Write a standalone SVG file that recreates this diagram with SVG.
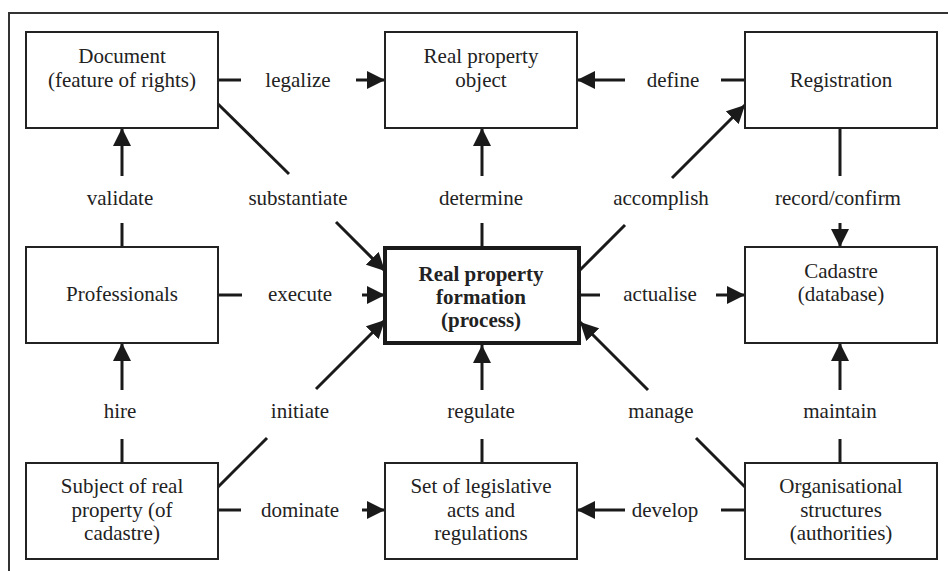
<svg xmlns="http://www.w3.org/2000/svg" width="948" height="571" viewBox="0 0 948 571" font-family="'Liberation Serif', 'Times New Roman', serif">
<style>
.box{fill:#fff;stroke:#222;stroke-width:2}
.main{fill:#fff;stroke:#1a1a1a;stroke-width:4}
.t{font-family:'Liberation Serif','Times New Roman',serif;font-size:21px;fill:#222;text-anchor:middle}
.b{font-weight:bold}
.c{stroke:#1a1a1a;stroke-width:3;fill:none}
.frame{stroke:#333;stroke-width:2;fill:none}
</style>
<defs>
<marker id="ah" markerUnits="userSpaceOnUse" markerWidth="18" markerHeight="18" viewBox="0 0 16 16" refX="16" refY="8" orient="auto">
<path d="M0,0 L16,8 L0,16 Z" fill="#1a1a1a"/>
</marker>
</defs>
<path class="frame" d="M9,571 V13 H948"/>

<g id="connectors">
<line class="c" x1="218" y1="80" x2="241" y2="80"/>
<line class="c" x1="356" y1="80" x2="385" y2="80" marker-end="url(#ah)"/>
<text class="t" x="298" y="87">legalize</text>
<line class="c" x1="745" y1="80" x2="721" y2="80"/>
<line class="c" x1="625" y1="80" x2="577" y2="80" marker-end="url(#ah)"/>
<text class="t" x="673" y="87">define</text>
<line class="c" x1="122" y1="247" x2="122" y2="223"/>
<line class="c" x1="122" y1="176" x2="122" y2="128" marker-end="url(#ah)"/>
<text class="t" x="120" y="205">validate</text>
<line class="c" x1="218" y1="104" x2="289" y2="174"/>
<line class="c" x1="336" y1="222" x2="385" y2="271" marker-end="url(#ah)"/>
<text class="t" x="298" y="205">substantiate</text>
<line class="c" x1="482" y1="246" x2="482" y2="223"/>
<line class="c" x1="482" y1="176" x2="482" y2="128" marker-end="url(#ah)"/>
<text class="t" x="481" y="205">determine</text>
<line class="c" x1="580" y1="270" x2="625" y2="225"/>
<line class="c" x1="672" y1="178" x2="745" y2="105" marker-end="url(#ah)"/>
<text class="t" x="661" y="205">accomplish</text>
<line class="c" x1="840" y1="128" x2="840" y2="176"/>
<line class="c" x1="840" y1="223" x2="840" y2="247" marker-end="url(#ah)"/>
<text class="t" x="838" y="205">record/confirm</text>
<line class="c" x1="218" y1="295" x2="242" y2="295"/>
<line class="c" x1="362" y1="295" x2="385" y2="295" marker-end="url(#ah)"/>
<text class="t" x="300" y="301">execute</text>
<line class="c" x1="580" y1="295" x2="600" y2="295"/>
<line class="c" x1="716" y1="295" x2="745" y2="295" marker-end="url(#ah)"/>
<text class="t" x="660" y="301">actualise</text>
<line class="c" x1="122" y1="463" x2="122" y2="439"/>
<line class="c" x1="122" y1="390" x2="122" y2="343" marker-end="url(#ah)"/>
<text class="t" x="120" y="418">hire</text>
<line class="c" x1="218" y1="487" x2="267" y2="438"/>
<line class="c" x1="316" y1="389" x2="385" y2="320" marker-end="url(#ah)"/>
<text class="t" x="300" y="418">initiate</text>
<line class="c" x1="482" y1="463" x2="482" y2="439"/>
<line class="c" x1="482" y1="390" x2="482" y2="345" marker-end="url(#ah)"/>
<text class="t" x="481" y="418">regulate</text>
<line class="c" x1="745" y1="487" x2="696" y2="438"/>
<line class="c" x1="648" y1="390" x2="580" y2="322" marker-end="url(#ah)"/>
<text class="t" x="661" y="418">manage</text>
<line class="c" x1="840" y1="463" x2="840" y2="439"/>
<line class="c" x1="840" y1="390" x2="840" y2="343" marker-end="url(#ah)"/>
<text class="t" x="840" y="418">maintain</text>
<line class="c" x1="218" y1="510" x2="241" y2="510"/>
<line class="c" x1="362" y1="510" x2="385" y2="510" marker-end="url(#ah)"/>
<text class="t" x="300" y="517">dominate</text>
<line class="c" x1="745" y1="510" x2="721" y2="510"/>
<line class="c" x1="625" y1="510" x2="577" y2="510" marker-end="url(#ah)"/>
<text class="t" x="665" y="517">develop</text>
</g>

<g id="document">
<rect class="box" x="26" y="32" width="192" height="96"/>
<text class="t" x="122" y="63">Document</text>
<text class="t" x="122" y="87">(feature of rights)</text>
</g>
<g id="rpo">
<rect class="box" x="385" y="32" width="192" height="96"/>
<text class="t" x="481" y="63">Real property</text>
<text class="t" x="481" y="87">object</text>
</g>
<g id="registration">
<rect class="box" x="745" y="32" width="192" height="96"/>
<text class="t" x="841" y="87">Registration</text>
</g>
<g id="professionals">
<rect class="box" x="26" y="247" width="192" height="96"/>
<text class="t" x="122" y="301">Professionals</text>
</g>
<g id="formation">
<rect class="main" x="385" y="248" width="194" height="95"/>
<text class="t b" x="481" y="281">Real property</text>
<text class="t b" x="481" y="304">formation</text>
<text class="t b" x="481" y="327">(process)</text>
</g>
<g id="cadastre">
<rect class="box" x="745" y="247" width="192" height="96"/>
<text class="t" x="841" y="278">Cadastre</text>
<text class="t" x="841" y="301">(database)</text>
</g>
<g id="subject">
<rect class="box" x="26" y="463" width="192" height="96"/>
<text class="t" x="122" y="493">Subject of real</text>
<text class="t" x="122" y="517">property (of</text>
<text class="t" x="122" y="540">cadastre)</text>
</g>
<g id="legislation">
<rect class="box" x="385" y="463" width="192" height="96"/>
<text class="t" x="481" y="493">Set of legislative</text>
<text class="t" x="481" y="517">acts and</text>
<text class="t" x="481" y="540">regulations</text>
</g>
<g id="organisations">
<rect class="box" x="745" y="463" width="192" height="96"/>
<text class="t" x="841" y="493">Organisational</text>
<text class="t" x="841" y="517">structures</text>
<text class="t" x="841" y="540">(authorities)</text>
</g>
</svg>
